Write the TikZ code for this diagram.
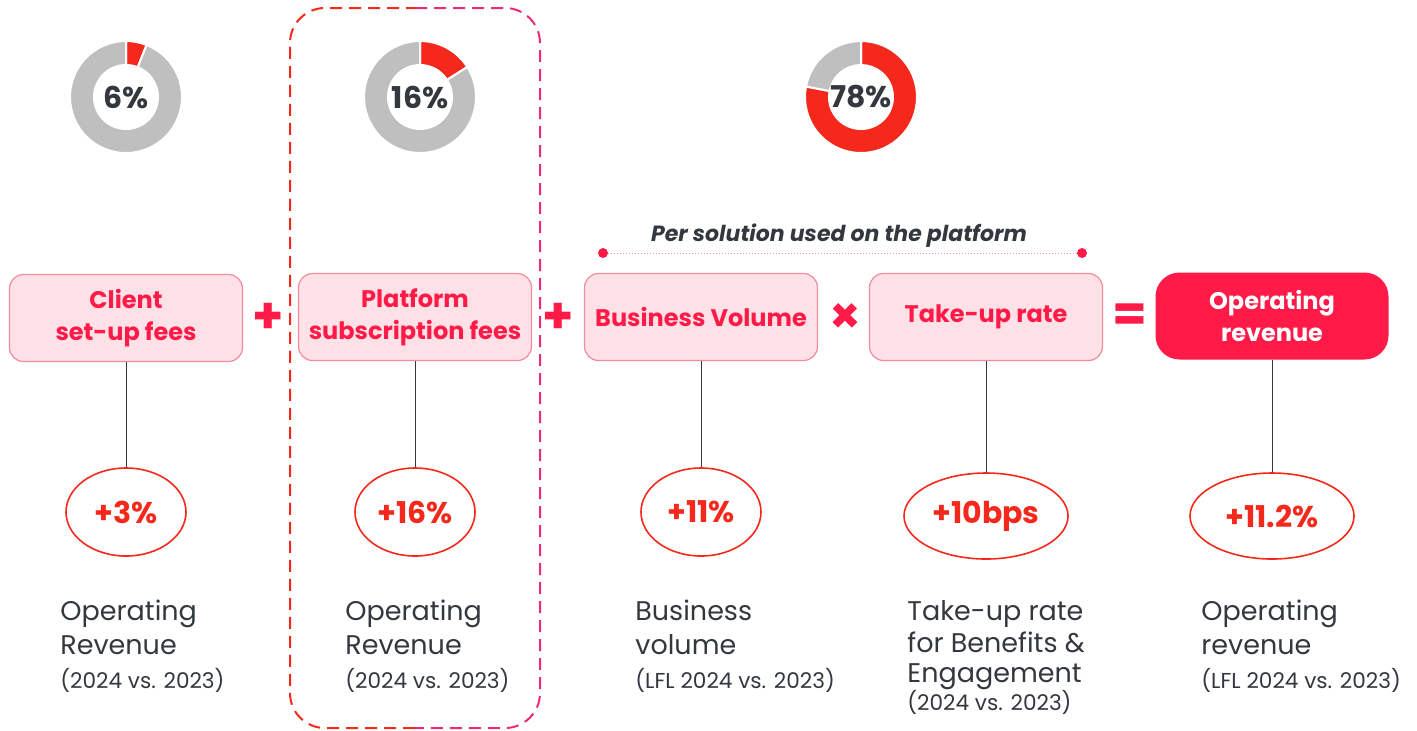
\documentclass[tikz,border=0pt]{standalone}
\usepackage{fontspec}
\setmainfont{Poppins}
\usetikzlibrary{shapes.geometric}

\definecolor{brandred}{HTML}{FF1A47}
\definecolor{tilefill}{HTML}{FFE1E7}
\definecolor{tileline}{HTML}{F28AA0}
\definecolor{growthred}{HTML}{F4291C}
\definecolor{ringgray}{HTML}{BFBFBF}
\definecolor{inkgray}{HTML}{33383E}
\definecolor{framepink}{HTML}{EE2A78}

\newcommand{\yr}[1]{{\fontsize{10.8}{13}\selectfont #1}}

\begin{document}
\begin{tikzpicture}[x=0.5pt,y=-0.5pt,
	tile/.style={draw=tileline,line width=0.6pt,fill=tilefill,rounded corners=7pt,minimum width=116.5pt,minimum height=43.5pt,align=center,text=brandred,font=\fontsize{12}{16}\selectfont\bfseries,inner sep=2pt},
	total/.style={tile,draw=none,fill=brandred,text=white,rounded corners=12pt},
	growth/.style={ellipse,draw=growthred,line width=0.8pt,minimum width=60pt,minimum height=44pt,inner sep=0pt,text=growthred,font=\fontsize{15}{18}\selectfont\bfseries},
	op/.style={text=brandred,font=\fontsize{25}{25}\selectfont\bfseries,inner sep=0pt},
	share/.style={text=inkgray,font=\fontsize{15}{18}\selectfont\bfseries,inner sep=0pt},
	caption/.style={anchor=north west,align=left,inner sep=0pt,text=inkgray,font=\fontsize{13.5}{17}\selectfont},
	link/.style={draw=inkgray,line width=0.5pt},
	tick/.style={circle,fill=brandred,minimum size=5pt,inner sep=0pt},
	frame/.style={line width=1pt,dash pattern=on 6pt off 3.5pt,rounded corners=17.5pt}]
	
	\useasboundingbox (0,0) rectangle (1417,730);
	
	%rings with shares
	\foreach \cx/\pc in {126/6, 420/16, 861/78}{
		\begin{scope}[shift={(\cx,97)}]
			\pgfmathsetmacro\stop{90-3.6*\pc}
			\fill[growthred,draw=white,line width=1pt] (90:28pt) arc[start angle=90,end angle=\stop,radius=28pt] -- (\stop:16pt) arc[start angle=\stop,end angle=90,radius=16pt] -- cycle;
			\fill[ringgray,draw=white,line width=1pt] (\stop:28pt) arc[start angle=\stop,end angle=-270,radius=28pt] -- (-270:16pt) arc[start angle=-270,end angle=\stop,radius=16pt] -- cycle;
		\end{scope}
		\node[share] (share\cx) at (\cx,97) {\pc\%};
	}
	
	%dashed frame
	\draw[frame,growthred] (415,728) -- (290,728) -- (290,8) -- (415,8);
	\draw[frame,framepink] (415,8) -- (540,8) -- (540,728) -- (415,728);
	
	%boxes
	\node[tile] (setup) at (126,318) {Client\\set-up fees};
	\node[tile] (subs) at (415,317) {Platform\\subscription fees};
	\node[tile] (volume) at (701,317) {Business Volume};
	\node[tile] (takeup) at (986,317) {Take-up rate};
	\node[total] (revenue) at (1272,316) {Operating\\revenue};
	
	%operators
	\node[op] (plusA) at (268,318) {+};
	\node[op] (plusB) at (558,318) {+};
	\node[op] (times) at (845,318) {×};
	\node[op] (equals) at (1130,318) {=};
	
	%per solution
	\node[text=inkgray,font=\fontsize{11}{13}\selectfont\bfseries\itshape] (persol) at (839,236) {Per solution used on the platform};
	\node[tick] (solL) at (603,253) {};
	\node[tick] (solR) at (1082,253) {};
	\draw[brandred!50,densely dotted,line width=0.5pt] (solL) -- (solR);
	
	%growth figures
	\node[growth] (gSetup) at (126,512) {+3\%};
	\node[growth] (gSubs) at (415,512) {+16\%};
	\node[growth] (gVolume) at (701,512) {+11\%};
	\node[growth,minimum width=82pt,minimum height=43pt] (gTakeup) at (986,516) {+10bps};
	\node[growth,minimum width=82pt,minimum height=43pt] (gRevenue) at (1272,516) {+11.2\%};
	
	\foreach \a/\b in {setup/gSetup, subs/gSubs, volume/gVolume, takeup/gTakeup, revenue/gRevenue}
	\draw[link] (\a.south) -- (\b.north);
	
	%captions
	\node[caption] (capSetup) at (60,600) {Operating\\Revenue\\\yr{(2024 vs. 2023)}};
	\node[caption] (capSubs) at (345,600) {Operating\\Revenue\\\yr{(2024 vs. 2023)}};
	\node[caption] (capVolume) at (635,600) {Business\\volume\\\yr{(LFL 2024 vs. 2023)}};
	\node[caption] (capTakeup) at (907,600) {Take-up rate\\[-1pt]for Benefits \&\\[-2pt]Engagement\\[-3pt]\yr{(2024 vs. 2023)}};
	\node[caption] (capRevenue) at (1201,600) {Operating\\revenue\\\yr{(LFL 2024 vs. 2023)}};
	
\end{tikzpicture}
\end{document}
